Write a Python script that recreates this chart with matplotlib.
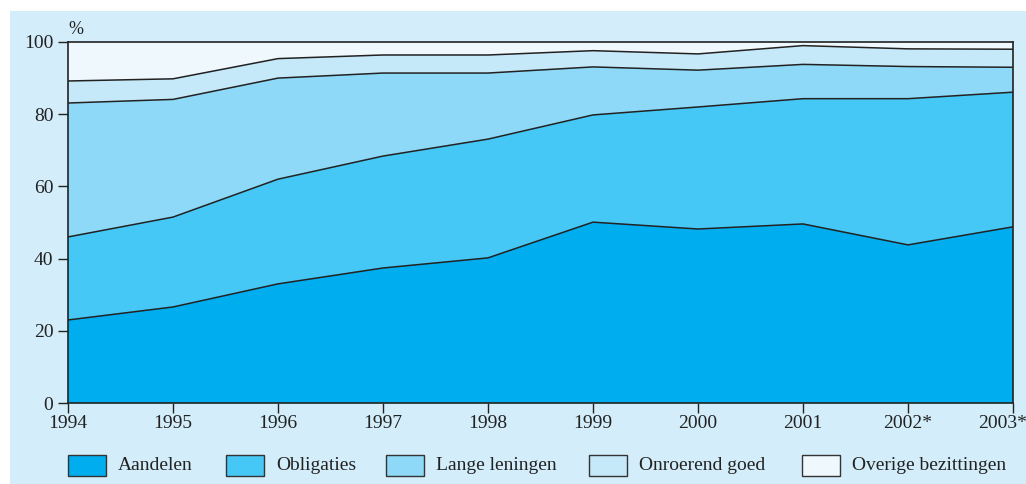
import matplotlib
matplotlib.use("Agg")
import matplotlib.pyplot as plt
import matplotlib.transforms as mtransforms
from matplotlib.patches import Rectangle
import numpy as np

years = ["1994", "1995", "1996", "1997", "1998", "1999", "2000", "2001", "2002*", "2003*"]
series_names = ["Aandelen", "Obligaties", "Lange leningen", "Onroerend goed", "Overige bezittingen"]

# Shares per asset class (% of total investments)
aandelen = [23.0, 26.6, 33.0, 37.4, 40.2, 50.1, 48.2, 49.6, 43.8, 48.8]
obligaties = [23.0, 24.9, 29.0, 31.0, 32.9, 29.7, 33.8, 34.7, 40.5, 37.3]
lange_leningen = [37.1, 32.6, 28.0, 23.0, 18.3, 13.3, 10.2, 9.5, 8.9, 6.9]
onroerend_goed = [6.1, 5.7, 5.4, 5.0, 5.0, 4.5, 4.5, 5.2, 4.9, 5.0]
overige = [10.8, 10.2, 4.6, 3.6, 3.6, 2.4, 3.3, 1.0, 1.9, 2.0]

colors = ["#00aeef", "#45c8f5", "#8dd9f7", "#c6e9f9", "#eef8fd"]
panel_color = "#d3eefa"

plt.rcParams["font.family"] = ["Liberation Serif", "DejaVu Serif"]

fig = plt.figure(figsize=(10.26, 4.84), dpi=100)
fig.patch.set_facecolor("white")
fig.patches.append(Rectangle((10 / 1026, 0), 1 - 10 / 1026, 1 - 11 / 484,
                             transform=fig.transFigure, facecolor=panel_color,
                             edgecolor="none", zorder=-10))

ax = fig.add_axes([68 / 1026, 1 - 403 / 484, (1013 - 68) / 1026, (403 - 42) / 484])
ax.set_facecolor("none")

x = np.arange(len(years))
data = [aandelen, obligaties, lange_leningen, onroerend_goed, overige]
ax.stackplot(x, *data, colors=colors, edgecolor="none")
cum = np.cumsum(np.array(data), axis=0)
for row in cum[:-1]:
    ax.plot(x, row, color="#222222", lw=1.1)

ax.set_xlim(0, len(years) - 1)
ax.set_ylim(0, 100)
ax.set_xticks(x)
ax.set_xticklabels(years)
ax.set_yticks([0, 20, 40, 60, 80, 100])
ax.tick_params(axis="both", labelsize=14, colors="#222222", length=7, width=1.0,
               direction="out")
ax.tick_params(axis="x", pad=2)
for s in ax.spines.values():
    s.set_color("#222222")
    s.set_linewidth(1.2)

# keep the last year label inside the figure
last = ax.get_xticklabels()[-1]
last.set_transform(last.get_transform() +
                   mtransforms.ScaledTranslation(-10 / 100, 0, fig.dpi_scale_trans))

fig.text(68 / 1026, 1 - 30 / 484, "%", fontsize=13, color="#222222", va="center", ha="left")

# Legend row
box_x = [68, 226, 386, 589, 802]
for bx, name, c in zip(box_x, series_names, colors):
    fig.patches.append(Rectangle((bx / 1026, 1 - 476 / 484), 38 / 1026, 21 / 484,
                                 transform=fig.transFigure, facecolor=c,
                                 edgecolor="#333333", lw=1.0))
    fig.text((bx + 50) / 1026, 1 - 466 / 484, name, fontsize=14, color="#222222",
             va="center", ha="left")

fig.savefig("out.png", dpi=100)
